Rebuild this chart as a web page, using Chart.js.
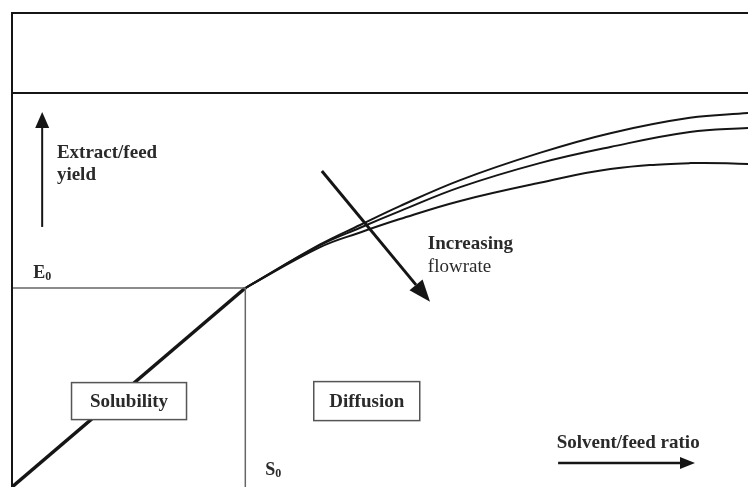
<!DOCTYPE html>
<html>
<head>
<meta charset="utf-8">
<script src="https://cdn.jsdelivr.net/npm/chart.js@4/dist/chart.umd.min.js"></script>
<style>
  html, body { margin: 0; padding: 0; background: #fff; }
  #wrap { width: 748px; height: 487px; }
</style>
</head>
<body>
<div id="wrap"><canvas id="extractionChart"></canvas></div>
<script>
// Schematic extraction curve, units: solvent/feed ratio (x) and yield (y), 0-100 scale
const S0 = 31.7;
const E0 = 50.5;

// Diffusion-controlled part, three flowrates (low -> high)
const curveX   = [31.7, 41.8, 47.3, 52.7, 60.9, 71.7, 81.3, 92.1, 100];
const lowFlow  = [50.5, 61.5, 66.5, 71.3, 77.9, 84.8, 89.8, 93.7, 94.9];
const midFlow  = [50.5, 61.3, 65.8, 70.0, 76.1, 82.2, 86.3, 90.1, 91.1];
const highFlow = [50.5, 60.8, 64.6, 68.0, 72.6, 77.2, 80.7, 82.2, 82.0];

function pts(xs, ys) {
    return xs.map((x, i) => ({ x: x, y: ys[i] }));
}

const lineColor = '#151515';

// Text and arrow annotations, given in data units
const labels = [
    { text: 'Extract/feed', x: 6.1, y: 84.8, bold: true },
    { text: 'yield', x: 6.1, y: 79.2, bold: true },
    { text: 'Increasing', x: 56.5, y: 61.7, bold: true },
    { text: 'flowrate', x: 56.5, y: 55.8, bold: false },
    { text: 'Solvent/feed ratio', x: 74.0, y: 11.2, bold: true }
];
const boxes = [
    { text: 'Solubility', x: 15.9, y: 21.8, w: 115, h: 37 },
    { text: 'Diffusion', x: 48.2, y: 21.8, w: 106, h: 39 }
];
const arrows = [
    { from: [4.1, 66.0], to: [4.1, 95.2], head: 16, half: 7, width: 2 },
    { from: [42.1, 80.2], to: [56.8, 47.0], head: 22, half: 8.5, width: 3 },
    { from: [74.2, 6.1], to: [92.8, 6.1], head: 15, half: 6, width: 2.5 }
];

const annotationPlugin = {
    id: 'annotations',
    afterDatasetsDraw(chart) {
        const ctx = chart.ctx;
        const xs = chart.scales.x;
        const ys = chart.scales.y;
        const area = chart.chartArea;
        ctx.save();

        // frame: top border, divider, left border
        ctx.strokeStyle = lineColor;
        ctx.lineWidth = 2;
        ctx.beginPath();
        ctx.moveTo(area.left, area.top);
        ctx.lineTo(area.right + 2, area.top);
        ctx.moveTo(area.left, ys.getPixelForValue(100));
        ctx.lineTo(area.right + 2, ys.getPixelForValue(100));
        ctx.moveTo(area.left, area.top - 1);
        ctx.lineTo(area.left, area.bottom + 2);
        ctx.stroke();

        // arrows
        ctx.fillStyle = lineColor;
        arrows.forEach(a => {
            const x1 = xs.getPixelForValue(a.from[0]), y1 = ys.getPixelForValue(a.from[1]);
            const x2 = xs.getPixelForValue(a.to[0]), y2 = ys.getPixelForValue(a.to[1]);
            const ang = Math.atan2(y2 - y1, x2 - x1);
            const bx = x2 - a.head * Math.cos(ang), by = y2 - a.head * Math.sin(ang);
            ctx.lineWidth = a.width;
            ctx.beginPath();
            ctx.moveTo(x1, y1);
            ctx.lineTo(bx, by);
            ctx.stroke();
            ctx.beginPath();
            ctx.moveTo(x2, y2);
            ctx.lineTo(bx + a.half * Math.sin(ang), by - a.half * Math.cos(ang));
            ctx.lineTo(bx - a.half * Math.sin(ang), by + a.half * Math.cos(ang));
            ctx.closePath();
            ctx.fill();
        });

        // plain labels
        ctx.fillStyle = '#2a2a2a';
        ctx.textBaseline = 'middle';
        ctx.textAlign = 'left';
        labels.forEach(l => {
            ctx.font = (l.bold ? 'bold ' : '') + '19px "Liberation Serif", "Times New Roman", serif';
            ctx.fillText(l.text, xs.getPixelForValue(l.x), ys.getPixelForValue(l.y));
        });

        // E0 and S0 with subscripts
        const sub = (main, x, y) => {
            const px = xs.getPixelForValue(x), py = ys.getPixelForValue(y);
            ctx.font = 'bold 18px "Liberation Serif", serif';
            ctx.fillText(main, px, py);
            const w = ctx.measureText(main).width;
            ctx.font = 'bold 12px "Liberation Serif", serif';
            ctx.fillText('0', px + w, py + 4);
        };
        sub('E', 2.9, 54.3);
        sub('S', 34.4, 4.3);

        // boxed labels
        boxes.forEach(b => {
            const cx = xs.getPixelForValue(b.x), cy = ys.getPixelForValue(b.y);
            ctx.fillStyle = '#fff';
            ctx.fillRect(cx - b.w / 2, cy - b.h / 2, b.w, b.h);
            ctx.strokeStyle = '#555';
            ctx.lineWidth = 1.5;
            ctx.strokeRect(cx - b.w / 2, cy - b.h / 2, b.w, b.h);
            ctx.fillStyle = '#2a2a2a';
            ctx.textAlign = 'center';
            ctx.font = 'bold 19px "Liberation Serif", serif';
            ctx.fillText(b.text, cx, cy + 1);
            ctx.textAlign = 'left';
        });
        ctx.restore();
    }
};

const ctx = document.getElementById('extractionChart').getContext('2d');

const curveStyle = {
    borderColor: lineColor,
    borderWidth: 2,
    pointRadius: 0,
    fill: false,
    tension: 0.4
};

new Chart(ctx, {
    type: 'scatter',
    data: {
        datasets: [
            {
                label: 'E0 level',
                data: [{ x: 0, y: E0 }, { x: S0, y: E0 }],
                showLine: true, borderColor: '#666', borderWidth: 1.5, pointRadius: 0
            },
            {
                label: 'S0 level',
                data: [{ x: S0, y: E0 }, { x: S0, y: 0 }],
                showLine: true, borderColor: '#666', borderWidth: 1.5, pointRadius: 0
            },
            {
                label: 'Solubility',
                data: [{ x: 0, y: 0 }, { x: S0, y: E0 }],
                showLine: true, borderColor: lineColor, borderWidth: 3.5, pointRadius: 0
            },
            Object.assign({ label: 'Low flowrate', data: pts(curveX, lowFlow), showLine: true }, curveStyle),
            Object.assign({ label: 'Medium flowrate', data: pts(curveX, midFlow), showLine: true }, curveStyle),
            Object.assign({ label: 'High flowrate', data: pts(curveX, highFlow), showLine: true }, curveStyle)
        ]
    },
    options: {
        responsive: true,
        maintainAspectRatio: false,
        animation: false,
        layout: { padding: { left: 12, top: 13, right: 0, bottom: 0 } },
        scales: {
            x: { type: 'linear', min: 0, max: 100, display: false },
            y: { type: 'linear', min: 0, max: 120.3, display: false }
        },
        plugins: {
            legend: { display: false },
            tooltip: { enabled: false }
        }
    },
    plugins: [annotationPlugin]
});
</script>
</body>
</html>
